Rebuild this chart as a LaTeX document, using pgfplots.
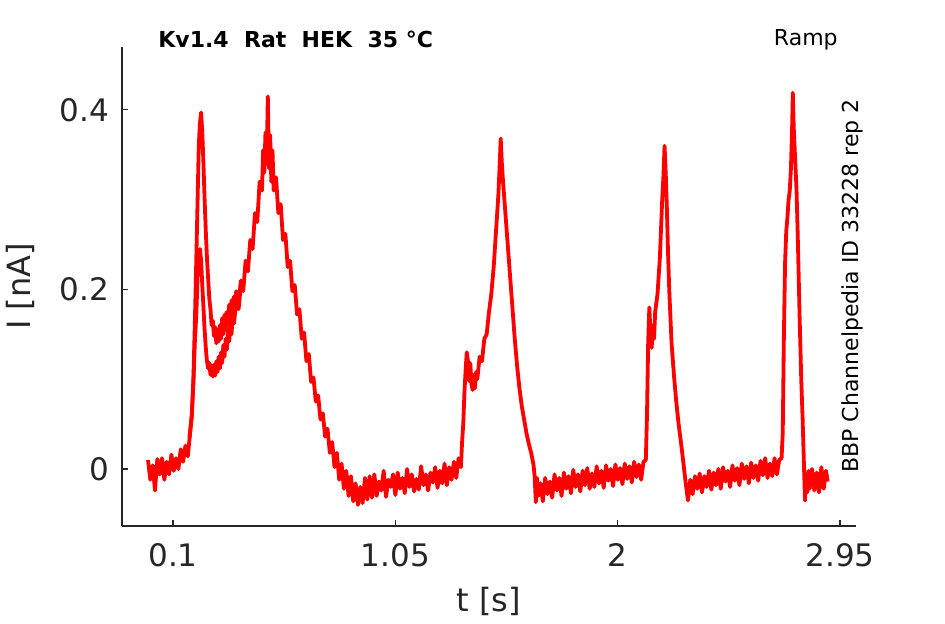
\documentclass[border=0pt]{standalone}
\usepackage{pgfplots}
\pgfplotsset{compat=1.18}
\usepackage{fontspec}
\setmainfont{DejaVu Sans}
\definecolor{axgray}{gray}{0.15}
\begin{document}
\begin{tikzpicture}[x=1pt,y=1pt]
\useasboundingbox (0,0) rectangle (472.5,312);
\begin{axis}[
  at={(61pt,49pt)}, anchor=south west,
  scale only axis, width=367pt, height=239.5pt,
  xmin=-0.118, xmax=3.018, ymin=-0.0635, ymax=0.470,
  axis x line*=bottom, axis y line*=left,
  axis line style={axgray, line width=0.6pt, -},
  tick align=inside, major tick length=3pt,
  tick style={axgray, line width=0.6pt},
  xtick={0.1,1.05,2,2.95}, xticklabels={0.1,1.05,2,2.95},
  ytick={0,0.2,0.4}, yticklabels={0,0.2,0.4},
  ticklabel style={font=\fontsize{15.5}{18}\selectfont, text=axgray},
  xticklabel style={yshift=-5pt},
  yticklabel style={xshift=-3pt},
  xlabel={t [s]}, ylabel={I [nA]},
  label style={font=\fontsize{16}{19}\selectfont, text=axgray},
  xlabel style={at={(0.5,0)}, anchor=north, yshift=-27pt},
  ylabel style={at={(0,0.5)}, anchor=south, yshift=40pt},
  clip=false,
]
\addplot[red, line width=1.9pt, line join=round] coordinates {
(-0.007,0.010)(0.003,-0.012)(0.013,0.004)(0.023,-0.024)(0.033,0.011)(0.043,-0.006)(0.053,0.012)(0.063,-0.012)(0.073,0.008)(0.083,-0.006)
(0.093,0.016)(0.103,-0.002)(0.113,0.012)(0.123,0.000)(0.133,0.022)(0.143,0.008)(0.153,0.026)(0.163,0.014)(0.173,0.040)(0.180,0.060)
(0.187,0.10)(0.193,0.16)(0.200,0.24)(0.205,0.30)(0.210,0.36)(0.215,0.385)(0.220,0.397)(0.225,0.375)(0.230,0.34)(0.235,0.30)
(0.240,0.265)(0.245,0.235)(0.250,0.212)(0.255,0.19)(0.260,0.178)(0.265,0.160)(0.270,0.165)(0.275,0.148)(0.280,0.158)(0.285,0.140)
(0.290,0.155)(0.295,0.142)(0.300,0.160)(0.305,0.145)(0.310,0.168)(0.315,0.150)(0.320,0.172)(0.325,0.155)(0.330,0.175)(0.335,0.160)
(0.340,0.183)(0.345,0.165)(0.350,0.188)(0.355,0.170)(0.360,0.192)(0.365,0.178)(0.370,0.198)(0.380,0.185)(0.390,0.210)(0.400,0.198)
(0.410,0.232)(0.420,0.220)(0.430,0.255)(0.440,0.245)(0.450,0.285)(0.460,0.275)(0.470,0.320)(0.480,0.310)(0.485,0.355)(0.490,0.330)
(0.495,0.375)(0.500,0.340)(0.505,0.415)(0.510,0.335)(0.515,0.372)(0.520,0.320)(0.525,0.355)(0.530,0.310)(0.540,0.325)(0.550,0.285)
(0.560,0.295)(0.570,0.255)(0.580,0.262)(0.590,0.225)(0.600,0.232)(0.610,0.198)(0.620,0.205)(0.630,0.172)(0.640,0.178)(0.650,0.145)
(0.660,0.152)(0.670,0.120)(0.680,0.128)(0.690,0.097)(0.700,0.102)(0.710,0.075)(0.720,0.082)(0.730,0.055)(0.740,0.062)(0.750,0.036)
(0.760,0.045)(0.770,0.018)(0.780,0.030)(0.790,0.002)(0.800,0.018)(0.810,-0.012)(0.820,0.006)(0.830,-0.022)(0.840,-0.002)(0.850,-0.030)
(0.860,-0.008)(0.870,-0.036)(0.880,-0.016)(0.890,-0.040)(0.900,-0.020)(0.910,-0.038)(0.920,-0.010)(0.930,-0.034)(0.940,-0.008)(0.950,-0.032)
(0.960,-0.006)(0.970,-0.030)(0.980,-0.014)(0.990,-0.024)(1.000,-0.002)(1.010,-0.031)(1.020,-0.012)(1.030,-0.020)(1.040,-0.006)(1.050,-0.029)
(1.060,-0.004)(1.070,-0.022)(1.080,-0.010)(1.090,-0.027)(1.100,0.000)(1.110,-0.020)(1.120,-0.006)(1.130,-0.025)(1.140,-0.011)(1.150,-0.023)
(1.160,0.003)(1.170,-0.018)(1.180,-0.006)(1.190,-0.024)(1.200,-0.004)(1.210,-0.015)(1.220,0.002)(1.230,-0.021)(1.240,-0.002)(1.250,-0.016)
(1.260,0.006)(1.270,-0.018)(1.280,0.002)(1.290,-0.012)(1.300,0.008)(1.310,-0.010)(1.320,0.012)(1.330,0.002)(1.335,0.030)(1.340,0.050)
(1.345,0.085)(1.350,0.110)(1.355,0.130)(1.360,0.120)(1.365,0.098)(1.370,0.118)(1.375,0.095)(1.380,0.088)(1.385,0.105)(1.390,0.090)
(1.395,0.108)(1.400,0.100)(1.410,0.125)(1.420,0.120)(1.430,0.145)(1.440,0.150)(1.450,0.175)(1.460,0.195)(1.470,0.225)(1.480,0.265)
(1.490,0.305)(1.495,0.335)(1.500,0.368)(1.505,0.340)(1.510,0.320)(1.520,0.285)(1.530,0.250)(1.540,0.215)(1.550,0.180)(1.560,0.145)
(1.570,0.115)(1.580,0.090)(1.590,0.070)(1.600,0.055)(1.610,0.040)(1.620,0.028)(1.630,0.018)(1.640,0.005)(1.645,-0.008)(1.650,-0.037)
(1.655,-0.010)(1.660,-0.030)(1.670,-0.016)(1.680,-0.036)(1.690,-0.010)(1.700,-0.028)(1.710,-0.014)(1.720,-0.032)(1.730,-0.006)(1.740,-0.024)
(1.750,-0.010)(1.760,-0.030)(1.770,-0.004)(1.780,-0.022)(1.790,-0.008)(1.800,-0.027)(1.810,-0.001)(1.820,-0.020)(1.830,-0.006)(1.840,-0.025)
(1.850,-0.002)(1.860,-0.018)(1.870,0.001)(1.880,-0.022)(1.890,-0.005)(1.900,-0.020)(1.910,0.003)(1.920,-0.016)(1.930,-0.002)(1.940,-0.021)
(1.950,0.004)(1.960,-0.013)(1.970,0.000)(1.980,-0.019)(1.990,0.005)(2.000,-0.012)(2.010,0.001)(2.020,-0.017)(2.030,0.006)(2.040,-0.011)
(2.050,0.003)(2.060,-0.015)(2.070,0.008)(2.080,-0.009)(2.090,0.005)(2.100,-0.012)(2.110,0.008)(2.120,0.010)(2.125,0.060)(2.130,0.140)
(2.135,0.180)(2.140,0.150)(2.145,0.135)(2.150,0.160)(2.155,0.145)(2.160,0.175)(2.170,0.195)(2.180,0.235)(2.190,0.300)(2.195,0.325)
(2.200,0.360)(2.205,0.330)(2.210,0.290)(2.215,0.240)(2.220,0.200)(2.230,0.140)(2.240,0.105)(2.250,0.075)(2.260,0.050)(2.270,0.030)
(2.280,0.008)(2.290,-0.015)(2.300,-0.035)(2.310,-0.012)(2.320,-0.028)(2.330,-0.008)(2.340,-0.022)(2.350,-0.005)(2.360,-0.026)(2.370,-0.008)
(2.380,-0.020)(2.390,-0.002)(2.400,-0.023)(2.410,-0.004)(2.420,-0.018)(2.430,0.000)(2.440,-0.022)(2.450,0.002)(2.460,-0.014)(2.470,-0.002)
(2.480,-0.020)(2.490,0.004)(2.500,-0.013)(2.510,0.001)(2.520,-0.018)(2.530,0.006)(2.540,-0.011)(2.550,0.003)(2.560,-0.016)(2.570,0.007)
(2.580,-0.010)(2.590,0.004)(2.600,-0.013)(2.610,0.009)(2.620,-0.007)(2.630,0.012)(2.640,-0.010)(2.650,0.006)(2.660,-0.008)(2.670,0.012)
(2.680,-0.006)(2.690,0.010)(2.700,0.012)(2.705,0.040)(2.710,0.150)(2.715,0.230)(2.720,0.265)(2.725,0.280)(2.730,0.300)(2.735,0.310)
(2.740,0.335)(2.745,0.380)(2.748,0.419)(2.752,0.380)(2.758,0.345)(2.764,0.310)(2.770,0.250)(2.777,0.170)(2.784,0.100)(2.790,0.055)
(2.795,0.010)(2.800,-0.035)(2.805,-0.008)(2.810,-0.026)(2.815,-0.002)(2.820,-0.022)(2.830,0.000)(2.840,-0.024)(2.850,-0.004)(2.860,-0.026)
(2.870,0.002)(2.880,-0.022)(2.890,-0.002)(2.897,-0.014)
};
\addplot[red, line width=1.9pt, line join=round] coordinates {
(0.170,0.035)(0.180,0.058)(0.187,0.095)(0.193,0.140)(0.200,0.175)(0.205,0.215)(0.210,0.240)(0.215,0.245)(0.220,0.232)(0.225,0.205)
(0.230,0.180)(0.235,0.155)(0.240,0.135)(0.245,0.120)(0.250,0.112)(0.255,0.118)(0.260,0.105)(0.265,0.115)(0.270,0.103)(0.275,0.116)
(0.280,0.104)(0.285,0.120)(0.290,0.108)(0.295,0.125)(0.300,0.112)(0.305,0.130)(0.310,0.118)(0.315,0.138)(0.320,0.125)(0.325,0.145)
(0.330,0.133)(0.335,0.155)(0.340,0.142)(0.345,0.162)(0.350,0.150)(0.355,0.172)(0.360,0.162)(0.370,0.185)(0.380,0.178)(0.390,0.205)
(0.400,0.198)
};
\end{axis}
\node[anchor=base west, font=\fontsize{11}{13}\selectfont\bfseries, inner sep=0pt] at (79,288) {Kv1.4\ \ Rat\ \ HEK\ \ 35 °C};
\node[anchor=base east, font=\fontsize{11}{13}\selectfont, inner sep=0pt] at (419,289) {Ramp};
\node[anchor=base, rotate=90, font=\fontsize{11}{13}\selectfont, inner sep=0pt] at (429,169) {BBP Channelpedia ID 33228 rep 2};
\end{tikzpicture}
\end{document}
